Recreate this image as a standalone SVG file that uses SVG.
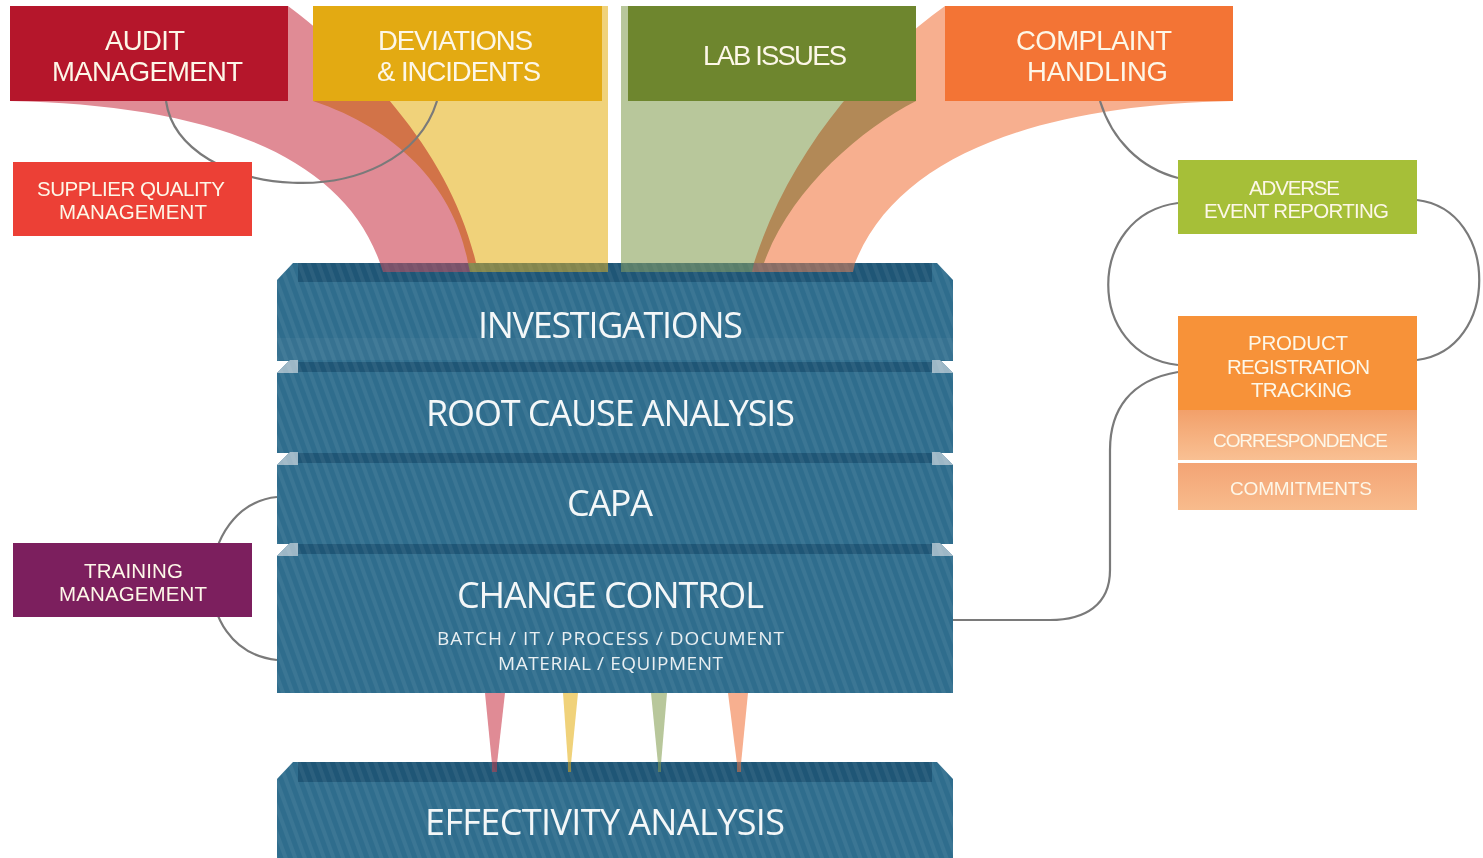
<svg xmlns="http://www.w3.org/2000/svg" width="1483" height="858" viewBox="0 0 1483 858">
<style>
.t{font-family:"Open Sans","Liberation Sans",sans-serif;fill:#fdf7e8;text-anchor:middle;lengthAdjust:spacingAndGlyphs}
.bx{font-family:"Liberation Sans",Arial,sans-serif}
.big{font-size:27.5px}
.sm{font-size:20.5px}
.stk{font-size:36px;fill:#f4f7f8}
.sub{font-size:19px;fill:#e9eff2}
.blk{fill:#2f6d8d}
.str{fill:#1f5676}
.tex{fill:url(#stripes)}
.side{fill:#9db7c6}
.conn{fill:none;stroke:#7a7a7a;stroke-width:2.2}
.rib{mix-blend-mode:multiply}
</style>
<defs>
<pattern id="stripes" width="9" height="9" patternUnits="userSpaceOnUse" patternTransform="rotate(-20)">
<rect width="4" height="9" fill="#ffffff" opacity="0.06"/>
</pattern>
<linearGradient id="gCor" x1="0" y1="0" x2="0" y2="1"><stop offset="0" stop-color="#f2a06a"/><stop offset="1" stop-color="#f9c093"/></linearGradient>
<linearGradient id="gCom" x1="0" y1="0" x2="0" y2="1"><stop offset="0" stop-color="#f3a475"/><stop offset="1" stop-color="#f8bb8c"/></linearGradient>
</defs>
<rect width="1483" height="858" fill="#ffffff"/>

<g id="ribbons">
<path class="rib" fill="#e08b95" d="M10,101 C200,105 340,150 380,263 L476,263 C450,150 360,60 288,6 Z"/>
<path class="rib" fill="#f0d27a" d="M313,101 C400,130 455,190 468,263 L608,263 L608,6 L313,6 Z"/>
<path class="rib" fill="#b8c79b" d="M621,6 L621,263 L764,263 C790,190 860,130 916,101 L916,6 Z"/>
<path class="rib" fill="#f7af8f" d="M945,6 C870,60 790,150 754,263 L855,263 C900,150 1050,105 1233,101 L1233,6 Z"/>
</g>

<g id="connectors">
<path class="conn" d="M166,101 C180,200 400,220 437,101"/>
<path class="conn" d="M1100,101 C1112,140 1140,168 1178,178"/>
<path class="conn" d="M1178,203 C1085,215 1085,355 1178,365"/>
<path class="conn" d="M1417,200 C1500,210 1500,350 1417,360"/>
<path class="conn" d="M1178,372 C1130,380 1110,410 1110,450 L1110,570 C1110,605 1085,620 1050,620 L953,620"/>
<path class="conn" d="M277,497 C195,505 185,650 277,660"/>
</g>

<g id="audit">
<rect x="10" y="6" width="278" height="95" fill="#b5162b"/>
<text class="t bx big" x="145" y="50" textLength="80">AUDIT</text>
<text class="t bx big" x="147.5" y="81" textLength="191">MANAGEMENT</text>
</g>
<g id="deviations">
<rect x="313" y="6" width="289" height="95" fill="#e3aa12"/>
<text class="t bx big" x="455.5" y="50" textLength="155">DEVIATIONS</text>
<text class="t bx big" x="459" y="81" textLength="164">&amp; INCIDENTS</text>
</g>
<g id="lab">
<rect x="628" y="6" width="288" height="95" fill="#6e862e"/>
<text class="t bx big" x="775" y="65" textLength="144">LAB ISSUES</text>
</g>
<g id="complaint">
<rect x="945" y="6" width="288" height="95" fill="#f37435"/>
<text class="t bx big" x="1094" y="50" textLength="156">COMPLAINT</text>
<text class="t bx big" x="1097.5" y="81" textLength="141">HANDLING</text>
</g>
<g id="supplier">
<rect x="13" y="162" width="239" height="74" fill="#ec4036"/>
<text class="t bx sm" x="131" y="196" textLength="188">SUPPLIER QUALITY</text>
<text class="t bx sm" x="133" y="219" textLength="148">MANAGEMENT</text>
</g>
<g id="adverse">
<rect x="1178" y="160" width="239" height="74" fill="#a6bf38"/>
<text class="t bx sm" x="1294.5" y="195" textLength="91">ADVERSE</text>
<text class="t bx sm" x="1296.5" y="218" textLength="185">EVENT REPORTING</text>
</g>
<g id="product">
<rect x="1178" y="316" width="239" height="94" fill="#f79239"/>
<text class="t bx sm" x="1298" y="350" textLength="100">PRODUCT</text>
<text class="t bx sm" x="1298.5" y="374" textLength="143">REGISTRATION</text>
<text class="t bx sm" x="1301.5" y="397" textLength="101">TRACKING</text>
<rect x="1178" y="410" width="239" height="50" fill="url(#gCor)"/>
<text class="t bx" style="font-size:19px" x="1300.5" y="447" textLength="175">CORRESPONDENCE</text>
<rect x="1178" y="463" width="239" height="47" fill="url(#gCom)"/>
<text class="t bx" style="font-size:19px" x="1301" y="495" textLength="142">COMMITMENTS</text>
</g>
<g id="training">
<rect x="13" y="543" width="239" height="74" fill="#7c1f5e"/>
<text class="t bx sm" x="133.5" y="578" textLength="99">TRAINING</text>
<text class="t bx sm" x="133" y="601" textLength="148">MANAGEMENT</text>
</g>

<g id="investigations">
<path class="blk" d="M277,280 L293,263 L937,263 L953,280 L953,361 L277,361 Z"/>
<rect class="str" x="298" y="263" width="634" height="19"/>
<path class="tex" d="M277,280 L293,263 L937,263 L953,280 L953,361 L277,361 Z"/>
<rect x="277" y="338" width="676" height="22" fill="#ffffff" opacity="0.04"/>
<text class="t stk" x="610.5" y="338" textLength="265">INVESTIGATIONS</text>
</g>
<g id="ribbon-tips" opacity="0.5">
<polygon fill="#d2505f" points="380,263 476,263 478,272 383,272"/>
<polygon fill="#e6b628" points="468,263 608,263 608,272 470,272"/>
<polygon fill="#93a761" points="621,263 764,263 762,272 621,272"/>
<polygon fill="#f38556" points="754,263 855,263 853,272 752,272"/>
</g>
<g id="rootcause">
<path class="blk" d="M277,373 L290,360 L940,360 L953,373 L953,453 L277,453 Z"/>
<polygon class="side" points="277,373 290,360 298,360 298,373"/>
<polygon class="side" points="953,373 940,360 932,360 932,373"/>
<rect class="str" x="298" y="362" width="634" height="10"/>
<path class="tex" d="M277,373 L290,360 L940,360 L953,373 L953,453 L277,453 Z"/>
<text class="t stk" x="610.5" y="426" textLength="369">ROOT CAUSE ANALYSIS</text>
</g>
<g id="capa">
<path class="blk" d="M277,465 L290,452 L940,452 L953,465 L953,544 L277,544 Z"/>
<polygon class="side" points="277,465 290,452 298,452 298,465"/>
<polygon class="side" points="953,465 940,452 932,452 932,465"/>
<rect class="str" x="298" y="453" width="634" height="10"/>
<path class="tex" d="M277,465 L290,452 L940,452 L953,465 L953,544 L277,544 Z"/>
<text class="t stk" x="610" y="516" textLength="86">CAPA</text>
</g>
<g id="changecontrol">
<path class="blk" d="M277,556 L290,543 L940,543 L953,556 L953,693 L277,693 Z"/>
<polygon class="side" points="277,556 290,543 298,543 298,556"/>
<polygon class="side" points="953,556 940,543 932,543 932,556"/>
<rect class="str" x="298" y="544" width="634" height="10"/>
<path class="tex" d="M277,556 L290,543 L940,543 L953,556 L953,693 L277,693 Z"/>
<text class="t stk" x="610.5" y="608" textLength="307">CHANGE CONTROL</text>
<text class="t sub" x="610.5" y="645" textLength="347">BATCH  /  IT  /  PROCESS  /  DOCUMENT</text>
<text class="t sub" x="610.5" y="670" textLength="225">MATERIAL  /  EQUIPMENT</text>
</g>
<g id="spikes">
<polygon fill="#e08b95" points="485,693 505,693 497,764 492,764"/>
<polygon fill="#f0d27a" points="563,693 578,693 571,764 568,764"/>
<polygon fill="#b8c79b" points="651,693 667,693 661,764 658,764"/>
<polygon fill="#f7af8f" points="728,693 748,693 741,764 737,764"/>
</g>
<g id="effectivity">
<path class="blk" d="M277,779 L293,762 L937,762 L953,779 L953,858 L277,858 Z"/>
<rect class="str" x="298" y="762" width="634" height="20"/>
<path class="tex" d="M277,779 L293,762 L937,762 L953,779 L953,858 L277,858 Z"/>
<text class="t stk" x="605" y="835" textLength="360">EFFECTIVITY ANALYSIS</text>
</g>
<g id="spike-tips" opacity="0.55">
<polygon fill="#c0404f" points="492,762 497,762 497,772 492,772"/>
<polygon fill="#d9a820" points="568,762 571,762 571,772 568,772"/>
<polygon fill="#8a9d55" points="658,762 661,762 661,772 658,772"/>
<polygon fill="#e57548" points="737,762 741,762 741,772 737,772"/>
</g>
</svg>
